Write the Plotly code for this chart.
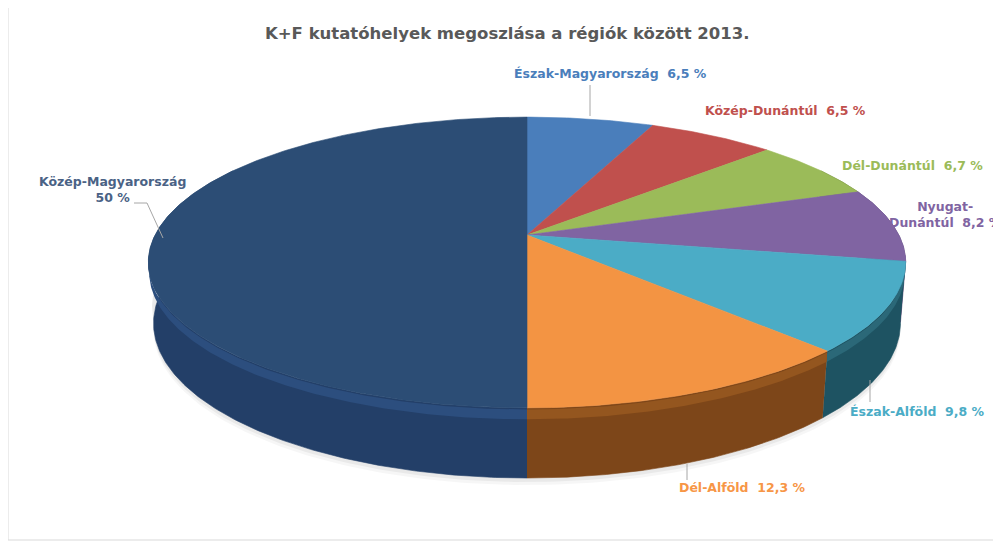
import math
import numpy as np
import plotly.graph_objects as go

# ---------------- data ----------------
title = "K+F kutatóhelyek megoszlása a régiók között 2013."
regions = ["Észak-Magyarország", "Közép-Dunántúl", "Dél-Dunántúl", "Nyugat-Dunántúl",
           "Észak-Alföld", "Dél-Alföld", "Közép-Magyarország"]
shares = [6.5, 6.5, 6.7, 8.2, 9.8, 12.3, 50.0]

# ---------------- style ----------------
top_colors = ["#4a7ebb", "#c0504d", "#9bbb59", "#8064a2", "#4bacc6", "#f39443", "#2c4d75"]
side_colors = ["#2f5684", "#7f2f2d", "#62792f", "#4f3a6b", "#1e5362", "#7d4619", "#233f68"]
bevel_colors = ["#5a8cc8", "#cc6563", "#a9c86c", "#8f75b0", "#2b6878", "#94561f", "#2c4e7e"]
label_colors = ["#4a7ebb", "#c0504d", "#9bbb59", "#8064a2", "#4bacc6", "#f79646", "#4a6285"]

# label placement (reference pixel space)
label_pos = [(610, 73), (785, 110), (912, 165), (945, 214), (917, 411), (742, 487), (112, 189)]
two_line = [False, False, False, True, False, False, True]

W, H_PX = 1001, 544
OFF = 8                # page body margin compensation
CX, CY = 527, 235      # projected pie centre
F = 1822.0             # focal length
D = 4.9                # camera distance
PHI = math.asin(0.377) # tilt
THICK = 0.1747         # pie thickness (radius = 1)


def proj(theta_deg, y):
    t = math.radians(theta_deg)
    X, Z = math.sin(t), math.cos(t)
    yc = y * math.cos(PHI) + Z * math.sin(PHI)
    dep = Z * math.cos(PHI) - y * math.sin(PHI) + D
    return CX + F * X / dep, CY - F * yc / dep


def arc(a0, a1, y, n=None):
    if n is None:
        n = max(8, int(abs(a1 - a0) * 2))
    pts = [proj(t, y) for t in np.linspace(a0, a1, n)]
    return [p[0] for p in pts], [p[1] for p in pts]


fig = go.Figure()

total = sum(shares)
bounds = [0.0]
for s in shares:
    bounds.append(bounds[-1] + s / total * 360.0)

# soft shadow under pie
for dy, alpha in [(7, 0.035), (4, 0.05)]:
    xs, ys = arc(70, 290, -THICK, 200)
    xt, yt = arc(290, 70, -THICK + 0.05, 200)
    fig.add_trace(go.Scatter(x=xs + xt, y=[v + dy for v in ys] + yt, fill="toself", mode="lines",
                             line=dict(width=0), fillcolor=f"rgba(0,0,0,{alpha})",
                             hoverinfo="skip", showlegend=False))

# side walls (visible front part only; back is hidden by the top face)
VIS0, VIS1 = 60.0, 300.0
BEV = 0.028
for i, s in enumerate(shares):
    a0, a1 = max(bounds[i], VIS0), min(bounds[i + 1], VIS1)
    if a1 <= a0:
        continue
    xt, yt = arc(a0, a1, 0)
    xb, yb = arc(a1, a0, -THICK)
    fig.add_trace(go.Scatter(x=xt + xb, y=yt + yb, fill="toself", mode="lines",
                             line=dict(width=0.6, color=side_colors[i]), fillcolor=side_colors[i],
                             hoverinfo="skip", showlegend=False))
    xt, yt = arc(a0, a1, -0.004)
    xb, yb = arc(a1, a0, -BEV)
    fig.add_trace(go.Scatter(x=xt + xb, y=yt + yb, fill="toself", mode="lines",
                             line=dict(width=0), fillcolor=bevel_colors[i],
                             hoverinfo="skip", showlegend=False))

# top face slices
for i, s in enumerate(shares):
    xa, ya = arc(bounds[i], bounds[i + 1], 0)
    fig.add_trace(go.Scatter(x=[CX] + xa + [CX], y=[CY] + ya + [CY], fill="toself", mode="lines",
                             line=dict(width=0.6, color=top_colors[i]), fillcolor=top_colors[i],
                             name=regions[i], hoverinfo="name", showlegend=False))


def fmt(v):
    if abs(v - round(v)) < 1e-9:
        return f"{int(round(v))} %"
    return f"{v:.1f}".replace(".", ",") + " %"


annotations = [dict(text=f"<b>{title}</b>", x=507, y=33, xref="x", yref="y", showarrow=False,
                    font=dict(family="DejaVu Sans", size=16.5, color="#595959"))]
for i, r in enumerate(regions):
    if two_line[i]:
        if r.startswith("Nyugat"):
            txt = f"<b>Nyugat-<br>Dunántúl  {fmt(shares[i])}</b>"
        else:
            txt = f"<b>{r}<br>{fmt(shares[i])}</b>"
    else:
        txt = f"<b>{r}  {fmt(shares[i])}</b>"
    annotations.append(dict(text=txt, x=label_pos[i][0], y=label_pos[i][1], xref="x", yref="y",
                            showarrow=False, align="center",
                            font=dict(family="DejaVu Sans", size=12.5, color=label_colors[i])))

leader = "#a6a6a6"
shapes = [
    dict(type="rect", xref="x", yref="y", x0=8, y0=-3, x1=1012, y1=540,
         line=dict(color="#d9d9d9", width=1)),
    dict(type="line", xref="x", yref="y", x0=590, y0=85, x1=590, y1=116, line=dict(color=leader, width=1)),
    dict(type="line", xref="x", yref="y", x0=870, y0=380, x1=870, y1=402, line=dict(color=leader, width=1)),
    dict(type="line", xref="x", yref="y", x0=687, y0=464, x1=687, y1=480, line=dict(color=leader, width=1)),
    dict(type="path", xref="x", yref="y", path="M 134 203 L 147 203 L 163 238",
         line=dict(color=leader, width=1)),
]

fig.update_layout(
    width=W, height=H_PX, margin=dict(l=0, r=0, t=0, b=0),
    paper_bgcolor="white", plot_bgcolor="white",
    xaxis=dict(range=[OFF, W + OFF], visible=False, fixedrange=True),
    yaxis=dict(range=[H_PX + OFF, OFF], visible=False, fixedrange=True),
    annotations=annotations, shapes=shapes, showlegend=False,
)

fig.write_html("out.html")
